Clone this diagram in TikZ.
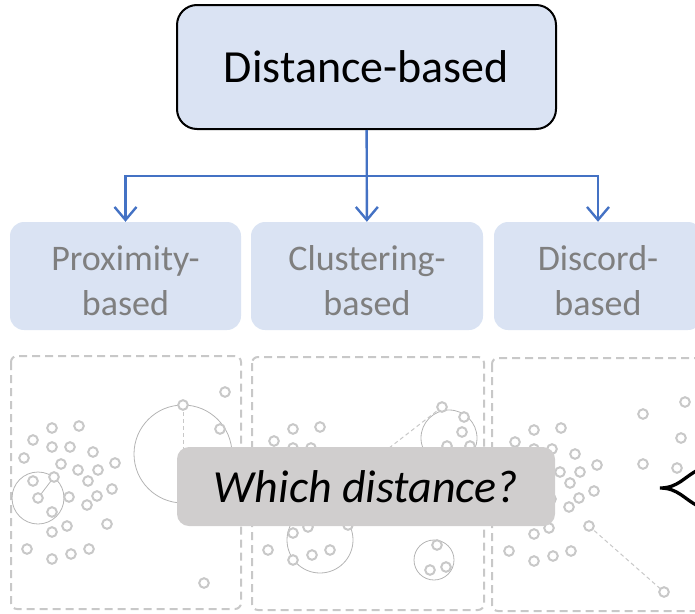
\documentclass[tikz,border=0pt]{standalone}
\usepackage{fontspec}
\setmainfont{Carlito}
\usetikzlibrary{arrows.meta}
\definecolor{boxblue}{HTML}{DAE3F3}
\definecolor{arrblue}{HTML}{4472C4}
\definecolor{txtgrey}{HTML}{7F7F7F}
\definecolor{dotgrey}{HTML}{C8C8C8}
\definecolor{askgrey}{HTML}{D0CECE}
% shared point cloud (left panel coordinates)
\newcommand\clusterpts{52/428,79/426,33/440,52/447,70/447,93/452,24/458,61/464,115/463,78/470,98/470,33/481,54/477,88/481,112/489,38/498,69/497,97/496,87/505,52/512,67/526,52/532,107/524,27/549,52/559,71/554,89/549}
\begin{document}
\begin{tikzpicture}[x=1pt,y=-1pt,
  topbox/.style={draw=black,line width=2pt,fill=boxblue,rounded corners=20pt,minimum width=379pt,minimum height=124pt,font=\fontsize{46}{55}\selectfont},
  subbox/.style={fill=boxblue,rounded corners=14pt,minimum height=108pt,align=center,text=txtgrey,font=\fontsize{36}{45}\selectfont},
  arr/.style={arrblue,line width=2.4pt,-{Straight Barb[length=13pt,width=22pt]}},
  panel/.style={dotgrey,line width=2pt,dash pattern=on 8pt off 5pt,rounded corners=6pt},
  dot/.style={dotgrey,line width=2pt,fill=white},
  ring/.style={dotgrey!90!black,line width=0.8pt},
  guide/.style={dotgrey,line width=1pt,dash pattern=on 4pt off 3pt}]
\useasboundingbox (0,0) rectangle (695,613);
% dashed panels
\draw[panel] (11,356) rectangle (241,609);
\draw[panel] (252,357) rectangle (484,610);
\draw[panel] (492,358) rectangle (715,611);
% distance marks
\draw[ring] (38,498) circle[radius=26pt];
\draw[ring] (38,498) -- (54,477);
\draw[ring] (183,454) circle[radius=49pt];
\draw[guide] (183,405) -- (183,454);
\draw[ring] (449,438) circle[radius=28pt];
\draw[guide] (442,407) -- (340,486);
\draw[ring] (320,540) circle[radius=33pt];
\draw[ring] (434,560) circle[radius=20pt];
\draw[guide] (589,526) -- (664,592);
% points
\foreach \dx/\dy in {0/0,241/1,482/2}
  \foreach \a/\b in \clusterpts
    \draw[dot] (\a+\dx,\b+\dy) circle[radius=4.8pt];
\foreach \a/\b in {225/392,183/405,220/429,204/583,442/407,464/417,462/432,447/446,470/446,437/545,430/570,446/567,685/402,643/414,681/438,643/464,677/468,664/592}
  \draw[dot] (\a,\b) circle[radius=4.8pt];
% brace tip
\draw[line width=3.3pt] (698,470) .. controls (684,477) and (678,488) .. (660,488)
  .. controls (678,488) and (684,499) .. (698,506);
% question
\node[fill=askgrey,rounded corners=12pt,minimum width=378pt,minimum height=79pt,font=\fontsize{46}{55}\selectfont\itshape] (ask) at (366,486.5) {Which distance?};
% hierarchy
\node[topbox] (top) at (366.5,67) {Distance-based};
\node[subbox,minimum width=231pt] (prox) at (125.5,276) {\rule{0pt}{35pt}Proximity-\\based};
\node[subbox,minimum width=232pt] (clus) at (367,276) {\rule{0pt}{35pt}Clustering-\\based};
\node[subbox,minimum width=208pt] (disc) at (598,276) {\rule{0pt}{35pt}Discord-\\based};
\coordinate (split) at (367,176);
\draw[arr] (top) -- (clus);
\draw[arr] (split) -| (prox);
\draw[arr] (split) -| (disc);
\end{tikzpicture}
\end{document}
